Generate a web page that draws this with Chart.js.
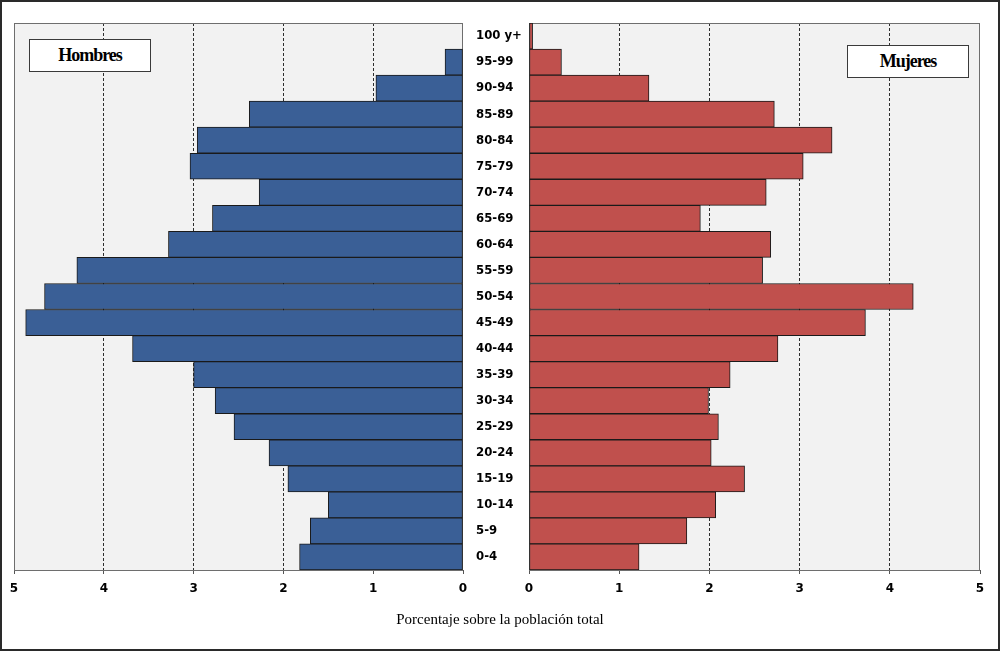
<!DOCTYPE html>
<html>
<head>
<meta charset="utf-8">
<script src="https://cdn.jsdelivr.net/npm/chart.js@4/dist/chart.umd.min.js"></script>
<style>
body { margin: 0; background: #fff; }
#wrap { position: relative; width: 1000px; height: 651px; background: #fff; overflow: hidden; }
#frame { position: absolute; left: 0; top: 0; width: 1000px; height: 651px; box-sizing: border-box; border: 2px solid #2a2a2a; pointer-events: none; }
canvas { position: absolute; top: 0; }
#left { left: 0; }
#right { left: 470px; }
.tag { position: absolute; box-sizing: border-box; background: #fff; border: 1px solid #3a3a3a;
       font-family: "Liberation Serif", serif; font-weight: bold; font-size: 18px; letter-spacing: -1px;
       text-align: center; color: #000; }
#hombres { left: 29px; top: 39px; width: 122px; height: 33px; line-height: 31px; }
#mujeres { left: 847px; top: 45px; width: 122px; height: 33px; line-height: 31px; }
#xtitle { position: absolute; left: 300px; width: 400px; top: 611px; text-align: center;
          font-family: "Liberation Serif", serif; font-size: 15px; color: #000; }
</style>
</head>
<body>
<div id="wrap">
  <canvas id="left" width="480" height="651"></canvas>
  <canvas id="right" width="530" height="651"></canvas>
  <div class="tag" id="hombres">Hombres</div>
  <div class="tag" id="mujeres">Mujeres</div>
  <div id="xtitle">Porcentaje sobre la población total</div>
  <div id="frame"></div>
</div>
<script>
const ageGroups = ['100 y+', '95-99', '90-94', '85-89', '80-84', '75-79', '70-74', '65-69', '60-64', '55-59',
    '50-54', '45-49', '40-44', '35-39', '30-34', '25-29', '20-24', '15-19', '10-14', '5-9', '0-4'];
const hombres = [0, 0.2, 0.97, 2.38, 2.96, 3.04, 2.27, 2.79, 3.28, 4.3,
    4.66, 4.87, 3.68, 3.0, 2.76, 2.55, 2.16, 1.95, 1.5, 1.7, 1.82];
const mujeres = [0.04, 0.36, 1.33, 2.72, 3.36, 3.04, 2.63, 1.9, 2.68, 2.59,
    4.26, 3.73, 2.76, 2.23, 1.99, 2.1, 2.02, 2.39, 2.07, 1.75, 1.22];
const xMin = 0;
const xMax = 5;

// grey panel behind the bars and a solid frame around it
const panelPlugin = {
    id: 'panel',
    beforeDraw(chart) {
        const a = chart.chartArea;
        const ctx = chart.ctx;
        ctx.save();
        ctx.fillStyle = '#f2f2f2';
        ctx.fillRect(a.left, a.top, a.right - a.left, a.bottom - a.top);
        ctx.restore();
    },
    beforeDatasetsDraw(chart) {
        const a = chart.chartArea;
        const ctx = chart.ctx;
        ctx.save();
        ctx.strokeStyle = '#6e6e6e';
        ctx.lineWidth = 1;
        ctx.strokeRect(a.left + 0.5, a.top + 0.5, a.right - a.left - 1, a.bottom - a.top);
        ctx.restore();
    }
};

function xScale(reverse) {
    return {
        type: 'linear',
        min: xMin,
        max: xMax,
        reverse: reverse,
        afterFit: scale => { scale.height = 30; },
        grid: {
            color: c => (c.tick && (c.tick.value === xMin || c.tick.value === xMax)) ? 'rgba(0,0,0,0)' : '#2e2e2e',
            lineWidth: 1,
            tickLength: 4,
            tickColor: '#555'
        },
        border: { display: false, dash: [3, 2] },
        ticks: {
            stepSize: 1,
            padding: 8,
            color: '#000',
            font: { family: 'DejaVu Sans', weight: 'bold', size: 12 }
        }
    };
}

function barSet(data, color) {
    return {
        data: data,
        backgroundColor: color,
        borderColor: '#1a1a1a',
        borderWidth: 1,
        borderSkipped: false,
        barPercentage: 1,
        categoryPercentage: 1
    };
}

new Chart(document.getElementById('left'), {
    type: 'bar',
    data: { labels: ageGroups, datasets: [barSet(hombres, '#3a5f96')] },
    options: {
        indexAxis: 'y',
        responsive: false,
        animation: false,
        layout: { padding: { left: 14, right: 17, top: 23, bottom: 51 } },
        plugins: { legend: { display: false }, tooltip: { enabled: false } },
        scales: {
            x: xScale(true),
            y: { display: false }
        }
    },
    plugins: [panelPlugin]
});

new Chart(document.getElementById('right'), {
    type: 'bar',
    data: { labels: ageGroups, datasets: [barSet(mujeres, '#c0504d')] },
    options: {
        indexAxis: 'y',
        responsive: false,
        animation: false,
        layout: { padding: { left: 6, right: 20, top: 23, bottom: 51 } },
        plugins: { legend: { display: false }, tooltip: { enabled: false } },
        scales: {
            x: xScale(false),
            y: {
                afterFit: scale => { scale.width = 53; },
                grid: { display: false },
                border: { display: false },
                ticks: {
                    autoSkip: false,
                    crossAlign: 'far',
                    padding: 0,
                    color: '#000',
                    font: { family: 'DejaVu Sans Condensed', weight: 'bold', size: 13 }
                }
            }
        }
    },
    plugins: [panelPlugin]
});
</script>
</body>
</html>
